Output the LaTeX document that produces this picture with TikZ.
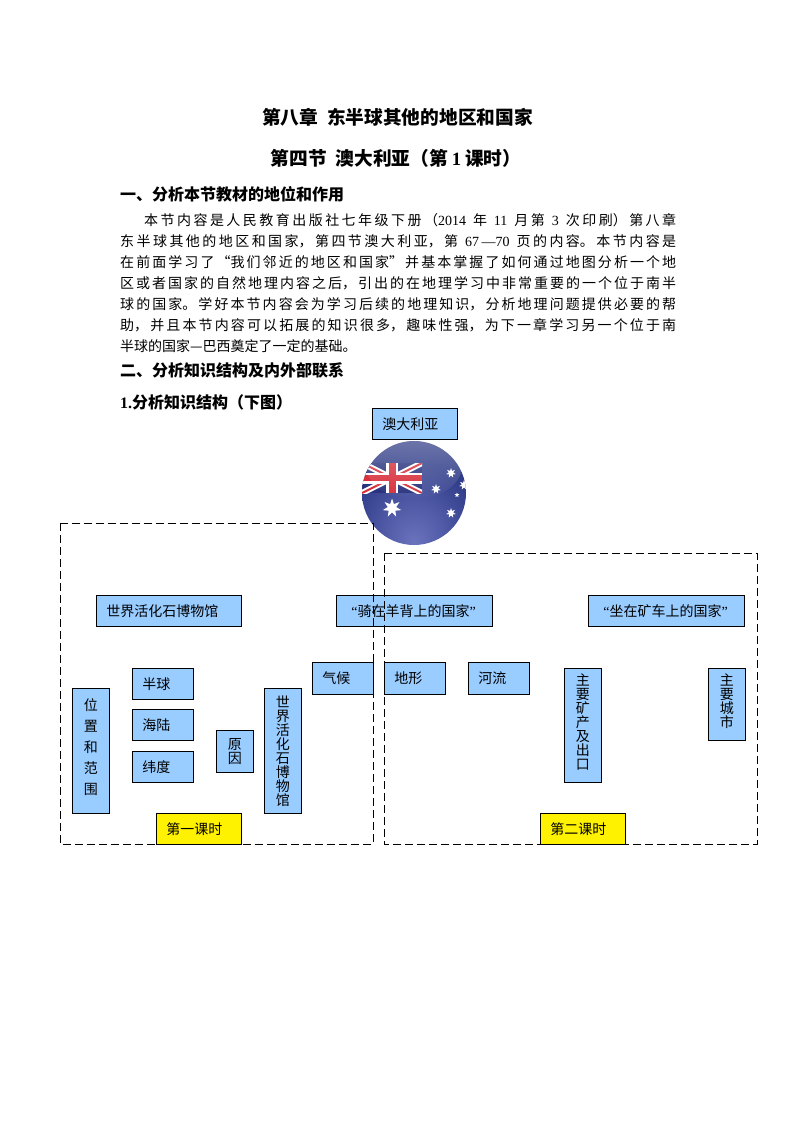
\documentclass[tikz,border=0pt]{standalone}
\usepackage{fontspec}
\setmainfont{Noto Sans CJK SC}
\newfontfamily\lat{Liberation Serif}
\usetikzlibrary{shapes.geometric}
\usetikzlibrary{fadings}
\XeTeXlinebreaklocale "zh"
\XeTeXlinebreakskip=0pt plus 1pt
\definecolor{boxblue}{HTML}{99CCFF}
\definecolor{navy}{HTML}{2A337E}
\definecolor{flagred}{HTML}{D8303C}
\pgfdeclareradialshading{ballflag}{\pgfpoint{0bp}{-24bp}}{
  rgb(0bp)=(0.42,0.45,0.74); rgb(16bp)=(0.30,0.34,0.64); rgb(30bp)=(0.19,0.24,0.54); rgb(50bp)=(0.14,0.18,0.46); rgb(75bp)=(0.12,0.15,0.40)}
\newcommand{\drop}[1]{\rule[-#1pt]{0pt}{#1pt}}
\tikzset{
  headline/.style={anchor=base,font=\fontsize{18.7}{22}\bfseries,inner sep=0pt},
  sechead/.style={anchor=base west,font=\fontsize{16}{18}\bfseries,inner sep=0pt},
  hbox/.style={draw=black,fill=boxblue,line width=0.8pt,anchor=north west,inner xsep=10pt,inner ysep=0pt,
    align=left,font=\fontsize{14}{14}\selectfont},
  vbox/.style={draw=black,fill=boxblue,line width=0.8pt,anchor=north west,inner xsep=11.5pt,inner ysep=0pt,
    text width=14pt,minimum width=37pt,align=center,font=\fontsize{14}{14}\selectfont},
  lesson/.style={hbox,fill=yellow,minimum height=31pt,text width=65pt},
  frame/.style={draw=black,line width=0.8pt,dash pattern=on 8pt off 4pt},
  flagstar/.style={star,star points=7,star point ratio=2.2,fill=white,inner sep=0pt}
}
\begin{document}
\begin{tikzpicture}[x=1pt,y=-1pt]
\useasboundingbox[fill=white] (0,0) rectangle (794,1123);
% headings
\node[headline] (title) at (397.5,125) {第八章\hspace{9pt}东半球其他的地区和国家};
\node[headline] (section) at (396,166) {第四节\hspace{9pt}澳大利亚（第\hspace{4pt}{\lat 1}\hspace{4pt}课时）};
\node[sechead] (headone) at (120,201) {一、分析本节教材的地位和作用};
\node[anchor=north west,inner sep=0pt,text width=556pt,align=justify,font=\fontsize{14}{21}\selectfont] (body) at (120,213.5) {%
\hspace*{24pt}本节内容是人民教育出版社七年级下册（{\lat 2014} 年 {\lat 11} 月第 {\lat 3} 次印刷）第八章\linebreak
东半球其他的地区和国家，第四节澳大利亚，第 {\lat 67—70} 页的内容。本节内容是\linebreak
在前面学习了“我们邻近的地区和国家”并基本掌握了如何通过地图分析一个地\linebreak
区或者国家的自然地理内容之后，引出的在地理学习中非常重要的一个位于南半\linebreak
球的国家。学好本节内容会为学习后续的地理知识，分析地理问题提供必要的帮\linebreak
助，并且本节内容可以拓展的知识很多，趣味性强，为下一章学习另一个位于南\linebreak
半球的国家—巴西奠定了一定的基础。};
\node[sechead] (headtwo) at (120,376) {二、分析知识结构及内外部联系};
\node[sechead] (headthree) at (120,408) {{\lat 1.}分析知识结构（下图）};

% boxes of the structure
\node[hbox,minimum height=31pt,text width=65pt] (aozhou) at (372,408) {澳大利亚};
\node[hbox,minimum height=31pt,text width=125pt] (fossil) at (96,595) {世界活化石博物馆};
\node[hbox,minimum height=31pt,text width=136pt] (sheep) at (336,595) {\hspace{5pt}{\lat “}骑在羊背上的国家{\lat ”}};
\node[hbox,minimum height=31pt,text width=136pt] (mine) at (588,595) {\hspace{5pt}{\lat “}坐在矿车上的国家{\lat ”}};
\node[hbox,minimum height=31pt,text width=41pt] (hemi) at (132,668) {半球};
\node[hbox,minimum height=31pt,text width=41pt] (land) at (132,709) {海陆};
\node[hbox,minimum height=31pt,text width=41pt] (lat) at (132,751) {纬度};
\node[hbox,minimum height=32pt,text width=41pt] (climate) at (312,662) {气候};
\node[hbox,minimum height=32pt,text width=41pt] (terrain) at (384,662) {地形};
\node[hbox,minimum height=32pt,text width=41pt] (river) at (468,662) {河流};
\node[vbox,minimum height=125pt,font=\fontsize{14}{21}\selectfont] (place) at (72,688) {位\\置\\和\\范\\围\drop{9}};
\node[vbox,minimum height=42pt] (reason) at (216,730) {原\\因};
\node[vbox,minimum height=125pt] (fossilv) at (264,688) {世\\界\\活\\化\\石\\博\\物\\馆};
\node[vbox,minimum height=114pt] (ore) at (564,668) {主\\要\\矿\\产\\及\\出\\口\drop{7}};
\node[vbox,minimum height=72pt] (city) at (708,668) {主\\要\\城\\市\drop{7}};
\node[lesson] (first) at (156,813) {第一课时};
\node[lesson] (second) at (540,813) {第二课时};

% globe with the flag
\begin{scope}
\clip (414,493) circle (52);
\shade[shading=ballflag] (362,441) rectangle (466,545);
\begin{scope}
\clip (362,463) rectangle (422,493);
\fill[navy] (362,463) rectangle (422,493);
\draw[white,line width=6pt] (362,463) -- (422,493);
\draw[white,line width=6pt] (362,493) -- (422,463);
\draw[flagred,line width=2pt] (362,463) -- (422,493);
\draw[flagred,line width=2pt] (362,493) -- (422,463);
\fill[white] (386,463) rectangle (398,493);
\fill[white] (362,472.5) rectangle (422,483.5);
\fill[flagred] (388.5,463) rectangle (395.5,493);
\fill[flagred] (362,475) rectangle (422,481);
\end{scope}
\node[flagstar,minimum size=19pt] (bigstar) at (392,508) {};
\node[flagstar,minimum size=10pt] (stara) at (451,473) {};
\node[flagstar,minimum size=10pt] (starb) at (436,489) {};
\node[flagstar,minimum size=10pt] (starc) at (464,485) {};
\node[flagstar,minimum size=5pt,star points=5] (stard) at (457,495) {};
\node[flagstar,minimum size=10pt] (stare) at (451,513) {};
\fill[white,path fading=south,opacity=0.35] (414,466) ellipse (48 and 33);
\end{scope}

% the two lessons
\draw[frame] (60,523) rectangle (373,844);
\draw[frame] (384,553) rectangle (757,844);
\end{tikzpicture}
\end{document}
